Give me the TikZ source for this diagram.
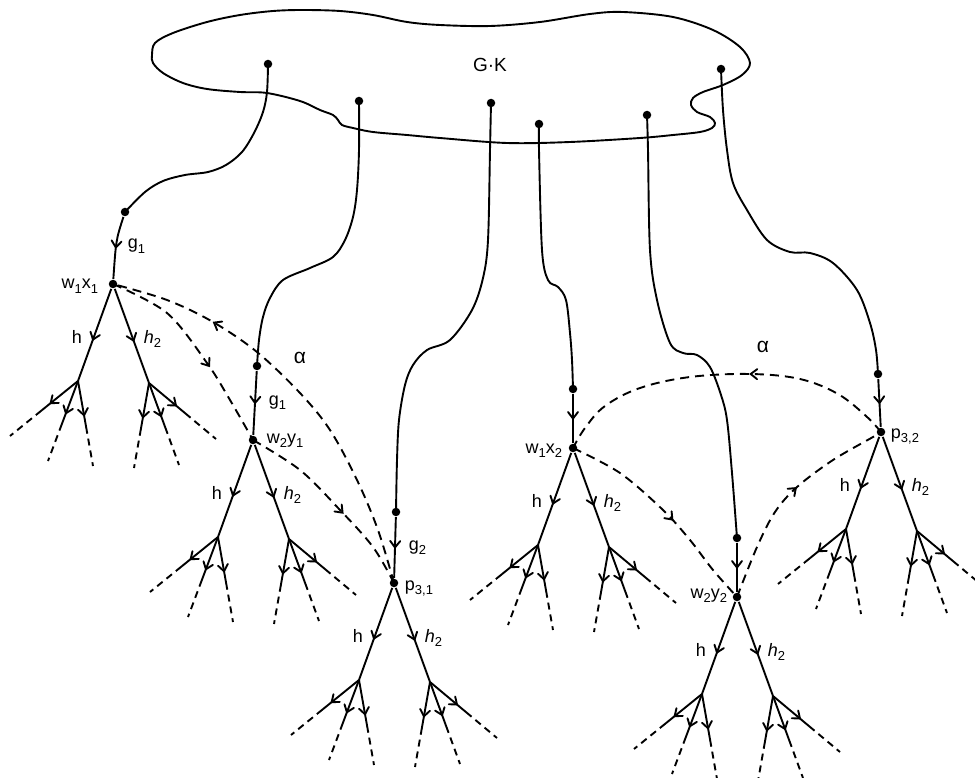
\documentclass[tikz,border=0pt]{standalone}
\usepackage{fontspec}
\setmainfont{Liberation Sans}
\usetikzlibrary{decorations.markings,calc}

\newcommand\sbs[1]{\raisebox{-0.45ex}{\fontsize{13}{13}\selectfont #1}}

\tikzset{
  dot/.style={circle,fill,inner sep=0pt,minimum size=8.5pt},
  lbl/.style={inner sep=0pt,font=\fontsize{18}{20}\selectfont},
  midarrow/.style={postaction={decorate,decoration={markings,mark=at position #1 with {\draw[solid,line cap=round,line join=miter] (-6.5pt,5pt) -- (0pt,0pt) -- (-6.5pt,-5pt);}}}},
  dsh/.style={dash pattern=on 9pt off 6pt},
  tail/.style={dash pattern=on 7pt off 5pt,dash phase=7pt},
}

\newcommand\gedge[2]{%
  \draw[midarrow=0.65] (#1) -- ($(#1)!0.62!(#2)$);
  \draw[tail] ($(#1)!0.62!(#2)$) -- (#2);
}

% name, x, y, root label, anchor, offset
\newcommand\mktree[6]{%
  \node[dot] (#1) at (#2,#3) {};
  \begin{scope}[shift={(#2,#3)}]
    \coordinate (#1-l) at (-35,97);
    \coordinate (#1-r) at (36,99);
    \coordinate (#1-ll) at (-103,152);
    \coordinate (#1-lm) at (-65,177);
    \coordinate (#1-lr) at (-20,182);
    \coordinate (#1-rl) at (21,184);
    \coordinate (#1-rm) at (66,181);
    \coordinate (#1-rr) at (103,155);
    \node[lbl,anchor=base west] (#1-h) at (-42,59) {h};
    \node[lbl,anchor=base west] (#1-h2) at (30,59) {\textit{h}\sbs{2}};
    \node[lbl,anchor=#5] (#1-name) at (#6) {#4};
  \end{scope}
  \draw[midarrow=0.55] (#1) -- (#1-l);
  \draw[midarrow=0.55] (#1) -- (#1-r);
  \gedge{#1-l}{#1-ll}
  \gedge{#1-l}{#1-lm}
  \gedge{#1-l}{#1-lr}
  \gedge{#1-r}{#1-rl}
  \gedge{#1-r}{#1-rm}
  \gedge{#1-r}{#1-rr}
}

\begin{document}
\begin{tikzpicture}[x=1pt,y=-1pt,line width=1.9pt,line join=round]
\useasboundingbox (0,0) rectangle (975,778);

% the blob G.K
\draw plot[smooth cycle,tension=0.55] coordinates {
  (152,55) (155,43) (173,33) (207,22) (240,15) (273,11) (303,10) (340,11)
  (373,15) (407,22) (440,25) (490,26) (540,22) (590,14) (623,12) (673,17)
  (713,30) (740,47) (750,63) (742,75) (723,85) (703,92) (693,98) (691,105)
  (697,112) (710,117) (715,123) (712,128) (700,132) (673,135) (640,138)
  (570,142) (507,143) (440,138) (407,135) (373,132) (353,128) (342,125)
  (338,120) (333,115) (320,110) (300,101) (267,93) (240,92) (207,89)
  (183,83) (163,73) (153,63)};
\node[font=\fontsize{19}{21}\selectfont,inner sep=0pt] (gk) at (490,65) {G·K};

% dots on the blob
\node[dot] (td1) at (268,64) {};
\node[dot] (td2) at (359,101) {};
\node[dot] (td3) at (491,103) {};
\node[dot] (td4) at (539,124) {};
\node[dot] (td5) at (647,115) {};
\node[dot] (td6) at (721,69) {};

% dots above the roots
\node[dot] (gd1) at (125,212) {};
\node[dot] (gd2) at (257,366) {};
\node[dot] (gd3) at (396,512) {};
\node[dot] (gd4) at (573,389) {};
\node[dot] (gd5) at (737,538) {};
\node[dot] (gd6) at (878,374) {};

% trees
\mktree{r1}{113}{284}{w\sbs{1}x\sbs{1}}{base east}{-14,5}
\mktree{r2}{253}{440}{w\sbs{2}y\sbs{1}}{base west}{13,3}
\mktree{r3}{394}{583}{p\sbs{3,1}}{base west}{10,7}
\mktree{r4}{573}{448}{w\sbs{1}x\sbs{2}}{base east}{-10,5}
\mktree{r5}{737}{597}{w\sbs{2}y\sbs{2}}{base east}{-9,1}
\mktree{r6}{881}{432}{p\sbs{3,2}}{base west}{9,6}

% curves from the blob
\draw plot[smooth,tension=0.55] coordinates {(td1) (267,92) (263,112) (254,133)
  (242,152) (226,165) (208,172) (185,175) (163,181) (145,192) (gd1)};
\draw plot[smooth,tension=0.55] coordinates {(td2) (359,150) (357,190) (353,217)
  (345,240) (333,257) (310,268) (283,280) (270,298) (263,317) (259,340) (gd2)};
\draw plot[smooth,tension=0.55] coordinates {(td3) (490,150) (488,240) (483,278)
  (472,310) (450,340) (427,350) (413,365) (405,385) (399,420) (397,460) (gd3)};
\draw plot[smooth,tension=0.55] coordinates {(td4) (539,150) (542,250) (548,280)
  (558,287) (566,300) (570,333) (572,360) (gd4)};
\draw plot[smooth,tension=0.55] coordinates {(td5) (648,150) (650,250) (657,300)
  (670,343) (683,353) (697,355) (710,367) (721,395) (727,420) (732,473) (gd5)};
\draw plot[smooth,tension=0.55] coordinates {(td6) (723,110) (727,150) (733,183)
  (747,210) (767,240) (790,252) (810,253) (833,263) (857,290) (870,323) (876,350) (gd6)};

% arrows g
\draw[midarrow=0.5] (gd1) .. controls (116,240) .. (r1);
\draw[midarrow=0.5] (gd2) -- (r2);
\draw[midarrow=0.5] (gd3) -- (r3);
\draw[midarrow=0.5] (gd4) -- (r4);
\draw[midarrow=0.5] (gd5) -- (r5);
\draw[midarrow=0.5] (gd6) -- (r6);

\node[lbl,anchor=base west] (gl1) at (127,249) {g\sbs{1}};
\node[lbl,anchor=base west] (gl2) at (268,405) {g\sbs{1}};
\node[lbl,anchor=base west] (gl3) at (408,550) {g\sbs{2}};

% dashed alpha loops
\draw[dsh,midarrow=0.6] plot[smooth,tension=0.55] coordinates {(r1) (167,313) (207,363) (230,400) (r2)};
\draw[dsh,midarrow=0.57] plot[smooth,tension=0.55] coordinates {(r2) (300,470) (340,510) (373,547) (r3)};
\draw[dsh,midarrow=0.75] plot[smooth,tension=0.55] coordinates {(r3) (378,530) (357,480) (330,430)
  (300,393) (257,352) (213,322) (167,300) (r1)};
\draw[dsh,midarrow=0.55] plot[smooth,tension=0.55] coordinates {(r4) (620,473) (663,510) (690,540) (713,570) (r5)};
\draw[dsh,midarrow=0.55] plot[smooth,tension=0.55] coordinates {(r5) (757,547) (775,512) (797,487) (833,460) (873,437) (r6)};
\draw[dsh,midarrow=0.42] plot[smooth,tension=0.6] coordinates {(r6) (866,416) (838,394) (800,379)
  (750,374) (690,377) (640,388) (605,406) (585,428) (r4)};

\node[font=\fontsize{21}{23}\selectfont,inner sep=0pt] (al1) at (300,358) {α};
\node[font=\fontsize{21}{23}\selectfont,inner sep=0pt] (al2) at (763,347) {α};
\end{tikzpicture}
\end{document}
